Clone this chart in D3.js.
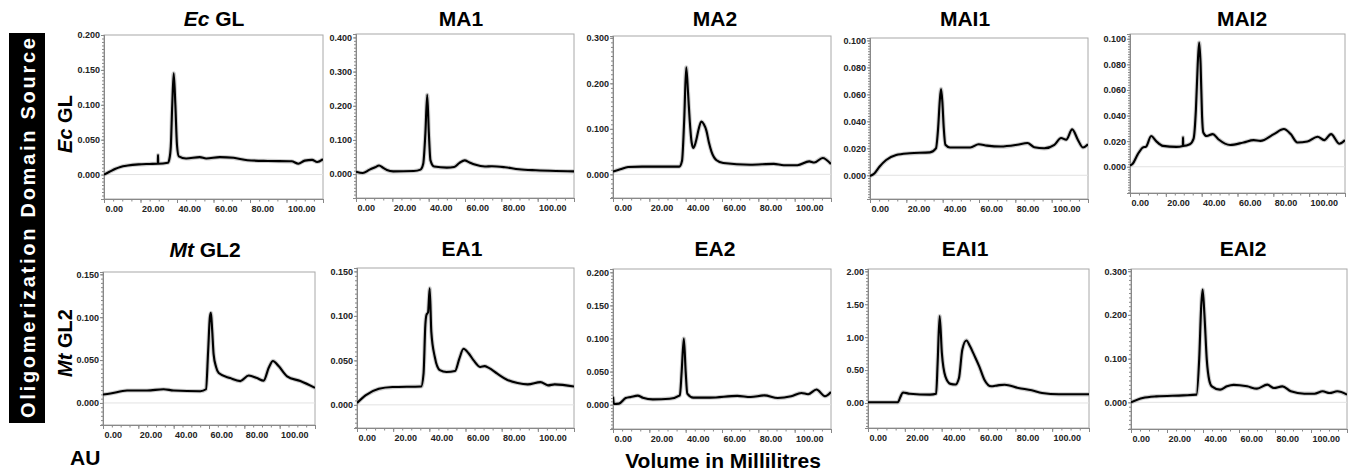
<!DOCTYPE html>
<html>
<head>
<meta charset="utf-8">
<script src="https://cdn.jsdelivr.net/npm/d3@7"></script>
<style>
  body { margin: 0; background: #fff; }
  svg { display: block; font-family: "Liberation Sans", Arial, sans-serif; }
</style>
</head>
<body>
<div id="chart"></div>
<script>
const W = 1355, H = 475

// titles (italic part + plain part), row by row
const titleItalic = ["Ec", "", "", "", "", "Mt", "", "", "", ""]
const titlePlain = [" GL", "MA1", "MA2", "MAI1", "MAI2", " GL2", "EA1", "EA2", "EAI1", "EAI2"]

// absorbance traces [volume mL, AU]
const ecGL = [[0,0.000],[3,0.004],[6,0.008],[9,0.011],[13,0.013],[19,0.0146],[25,0.0152],[29.5,0.0156],[29.6,0.028],[29.7,0.0156],[35,0.017],[35.8,0.022],[36.6,0.04],[37.4,0.1],[38.2,0.145],[39.1,0.1],[40,0.042],[41,0.026],[45,0.023],[52.5,0.025],[56,0.023],[63.5,0.025],[71,0.024],[78.6,0.0205],[89.8,0.0195],[102.8,0.019],[106.5,0.0156],[110,0.02],[114,0.021],[116.8,0.018],[120,0.022]]
const ma1 = [[0,0.007],[3.7,0.003],[7.5,0.013],[10.5,0.02],[12.7,0.025],[15,0.018],[17,0.012],[20.5,0.008],[31.8,0.009],[35.5,0.013],[37,0.03],[38.2,0.12],[39.2,0.232],[40.1,0.12],[41,0.04],[43,0.022],[50,0.019],[54,0.021],[57,0.033],[59.8,0.04],[62.5,0.034],[65.4,0.028],[71,0.022],[74.8,0.023],[82,0.02],[89.7,0.014],[99,0.011],[110,0.009],[120,0.008]]
const ma2 = [[0,0.006],[4,0.011],[8.3,0.016],[16,0.017],[36.5,0.017],[38,0.03],[39.2,0.12],[40.3,0.235],[41.3,0.18],[42.2,0.12],[43.3,0.07],[44.3,0.058],[45.8,0.075],[47.2,0.1],[48.6,0.116],[50,0.11],[51.4,0.096],[52.8,0.07],[54.2,0.05],[57,0.031],[60.7,0.025],[75.5,0.021],[88.5,0.023],[94,0.02],[101.5,0.02],[108,0.0285],[110.8,0.026],[115.4,0.036],[120,0.0225]]
const mai1 = [[0,-0.0005],[2.4,0.0013],[5.2,0.0063],[8.9,0.0113],[14.4,0.015],[21.9,0.0163],[33,0.017],[36.3,0.02],[37.5,0.035],[38.4,0.055],[39.1,0.064],[39.8,0.055],[40.6,0.035],[41.5,0.0226],[44,0.0206],[55.2,0.0206],[59.8,0.023],[64.4,0.022],[71.9,0.0213],[81.1,0.0226],[86.7,0.0239],[90.4,0.0208],[95.9,0.02],[101.5,0.0226],[105.2,0.0276],[108,0.0264],[111.3,0.034],[114.4,0.0264],[117.2,0.0206],[120,0.023]]
const mai2 = [[0,0.001],[1.5,0.0024],[4.3,0.0097],[7.1,0.015],[9,0.0158],[11.8,0.024],[14.6,0.02],[18.4,0.0163],[25.9,0.0155],[29.5,0.0162],[29.6,0.023],[29.7,0.0163],[33.4,0.0176],[35.5,0.022],[36.8,0.045],[37.8,0.08],[38.6,0.097],[39.4,0.08],[40.2,0.04],[40.9,0.0268],[42.8,0.024],[46.2,0.0255],[49.3,0.0215],[55.9,0.017],[63.4,0.019],[69,0.0208],[72.8,0.0202],[80.3,0.0255],[85.9,0.0295],[89.7,0.0255],[93.4,0.019],[99,0.0197],[104.7,0.0234],[108.4,0.0208],[112.2,0.0255],[116.9,0.018],[120,0.0208]]
const mtGL2 = [[0,0.0098],[4.2,0.011],[13.6,0.0145],[24.9,0.0145],[34.3,0.016],[40,0.0145],[55.1,0.0137],[58.3,0.016],[59.5,0.06],[60.5,0.1],[61.1,0.105],[61.8,0.085],[62.6,0.057],[64,0.042],[65.5,0.035],[72,0.029],[77.7,0.0255],[82.5,0.032],[87.2,0.029],[90.9,0.026],[93.8,0.041],[96.2,0.049],[99.4,0.043],[104.2,0.031],[111.7,0.0255],[120,0.0176]]
const ea1 = [[0,0.002],[4.7,0.0106],[12.1,0.018],[19.6,0.02],[35.5,0.0207],[36.8,0.035],[37.8,0.09],[38.4,0.101],[39.3,0.104],[40.2,0.131],[41.1,0.082],[43,0.054],[45.8,0.039],[49.5,0.037],[54.2,0.038],[56.6,0.052],[58.9,0.063],[61.7,0.058],[64.5,0.05],[68.2,0.0426],[70.5,0.0435],[72.9,0.0415],[77.6,0.035],[83.2,0.028],[88.8,0.0245],[94.4,0.023],[101.5,0.0256],[105.6,0.0219],[109.3,0.023],[120,0.0207]]
const ea2 = [[0,0.012],[0.5,0.001],[3.3,0.0015],[7,0.010],[9.8,0.0116],[13.6,0.0137],[16.4,0.0106],[21.9,0.008],[31.2,0.009],[36.8,0.014],[37.8,0.05],[39,0.1],[40,0.05],[40.9,0.0167],[44.2,0.0106],[53.5,0.0106],[68.4,0.0132],[75.8,0.0116],[83.3,0.014],[90.7,0.010],[98.1,0.0127],[103.7,0.0177],[107.4,0.0157],[112,0.0228],[116.7,0.0127],[120,0.0192]]
const eai1 = [[0,0.01],[16.2,0.01],[17.7,0.1],[19,0.16],[22.7,0.14],[33.7,0.127],[37,0.14],[37.8,0.6],[38.9,1.32],[40.1,0.76],[42,0.405],[44.8,0.29],[47.5,0.28],[49.4,0.38],[51.2,0.81],[53.4,0.95],[55.4,0.86],[57.6,0.73],[60.4,0.556],[63.2,0.354],[66.9,0.253],[70.5,0.268],[74.2,0.278],[81.6,0.228],[88.9,0.192],[94.5,0.152],[103.7,0.132],[120,0.132]]
const eai2 = [[0,0.0],[6.5,0.0099],[14,0.0137],[29,0.016],[36.4,0.0176],[37.9,0.1],[39,0.22],[39.8,0.258],[40.8,0.2],[42.1,0.0977],[43.5,0.05],[44.9,0.0366],[49.5,0.029],[53.3,0.0366],[57,0.04],[64.5,0.0366],[70,0.0313],[75.7,0.0404],[79.4,0.0328],[84.1,0.0366],[88.8,0.0252],[96.3,0.0198],[101.9,0.0198],[106.5,0.0252],[110.3,0.0214],[114.6,0.0252],[120,0.0176]]

// y ranges and tick steps per panel
const yMin = [-0.035, -0.07, -0.052, -0.0176, -0.0205, -0.0257, -0.026, -0.0368, -0.38, -0.061]
const yMax = [0.2, 0.41, 0.304, 0.1018, 0.1037, 0.1527, 0.1538, 0.205, 2.035, 0.305]
const yStep = [0.05, 0.1, 0.1, 0.02, 0.02, 0.05, 0.05, 0.05, 0.5, 0.1]
const yFmt = [".3f", ".3f", ".3f", ".3f", ".3f", ".3f", ".3f", ".3f", ".2f", ".3f"]
const xTicks = [0, 20, 40, 60, 80, 100]

const traces = [ecGL, ma1, ma2, mai1, mai2, mtGL2, ea1, ea2, eai1, eai2]

// layout: plot boxes per panel
const boxLeft = [104, 356, 613, 870, 1130, 103, 357, 613, 868, 1131]
const boxWidth = [219, 218, 218, 218, 215, 212, 217, 218, 221, 216]
const boxTop = [35, 34, 36, 38, 34, 272, 268, 269, 269, 269]
const boxBottom = [199, 198, 198, 199, 193, 425, 428, 429, 428, 429]
const titleX = [214, 461, 715, 965, 1242, 205, 462, 715, 965, 1243]
const titleY = [26, 26, 26, 26, 26, 257, 256, 256, 256, 256]

const svg = d3.select("#chart").append("svg")
    .attr("width", W)
    .attr("height", H)

// side band
svg.append("rect")
    .attr("x", 9).attr("y", 33)
    .attr("width", 36).attr("height", 390)
    .attr("fill", "#000")
svg.append("text")
    .attr("transform", "translate(35,228) rotate(-90)")
    .attr("text-anchor", "middle")
    .attr("fill", "#fff")
    .attr("font-size", 20)
    .attr("font-weight", "bold")
    .attr("textLength", 380)
    .attr("lengthAdjust", "spacing")
    .text("Oligomerization Domain Source")

// row labels
const rowItalic = ["Ec", "Mt"], rowPlain = [" GL", " GL2"]
const rowY = [124, 343]
rowY.forEach((yy, r) => {
    const t = svg.append("text")
        .attr("transform", `translate(72,${yy}) rotate(-90)`)
        .attr("text-anchor", "middle")
        .attr("font-size", 20)
        .attr("font-weight", "bold")
    t.append("tspan").attr("font-style", "italic").text(rowItalic[r])
    t.append("tspan").text(rowPlain[r])
})

svg.append("text")
    .attr("x", 70).attr("y", 465)
    .attr("font-size", 21).attr("font-weight", "bold")
    .text("AU")
svg.append("text")
    .attr("x", 723).attr("y", 468)
    .attr("text-anchor", "middle")
    .attr("font-size", 21).attr("font-weight", "bold")
    .text("Volume in Millilitres")

traces.forEach((data, i) => {
    const x0 = boxLeft[i], w = boxWidth[i], y0 = boxTop[i], y1 = boxBottom[i]

    const x = d3.scaleLinear().domain([0, 120]).range([x0, x0 + w])
    const y = d3.scaleLinear().domain([yMin[i], yMax[i]]).range([y1, y0])

    const g = svg.append("g")

    // title
    const t = g.append("text")
        .attr("x", titleX[i]).attr("y", titleY[i])
        .attr("text-anchor", "middle")
        .attr("font-size", 21).attr("font-weight", "bold")
    if (titleItalic[i]) t.append("tspan").attr("font-style", "italic").text(titleItalic[i])
    t.append("tspan").text(titlePlain[i])

    // frame
    g.append("rect")
        .attr("x", x0).attr("y", y0)
        .attr("width", w).attr("height", y1 - y0)
        .attr("fill", "#fff")
        .attr("stroke", "#a8a8a8").attr("stroke-width", 1)

    // zero line
    g.append("line")
        .attr("x1", x0).attr("x2", x0 + w)
        .attr("y1", y(0)).attr("y2", y(0))
        .attr("stroke", "#e2e2e2").attr("stroke-width", 1)

    // x axis, minor then major
    g.append("g").attr("transform", `translate(0,${y1})`)
        .call(d3.axisBottom(x).tickValues(d3.range(0, 121, 5)).tickSize(2.5).tickFormat(""))
    const xAxis = g.append("g").attr("transform", `translate(0,${y1})`)
        .call(d3.axisBottom(x).tickValues(xTicks).tickSize(4).tickFormat(d3.format(".2f")))
    xAxis.selectAll("text")
        .attr("text-anchor", "start")
        .attr("dx", "0.1em")
        .attr("y", 7)
        .attr("font-size", 9).attr("font-weight", "bold").attr("fill", "#222")

    // y axis
    const yt = d3.range(0, yMax[i] + 1e-9, yStep[i])
    const ym = d3.range(Math.ceil(yMin[i] / (yStep[i] / 10)) * yStep[i] / 10, yMax[i], yStep[i] / 10)
    g.append("g").attr("transform", `translate(${x0},0)`)
        .call(d3.axisLeft(y).tickValues(ym).tickSize(2).tickFormat(""))
    const yAxis = g.append("g").attr("transform", `translate(${x0},0)`)
        .call(d3.axisLeft(y).tickValues(yt).tickSize(3).tickFormat(d3.format(yFmt[i])))
    yAxis.selectAll("text")
        .attr("x", -4)
        .attr("font-size", 9).attr("font-weight", "bold").attr("fill", "#222")

    g.selectAll(".domain").attr("stroke", "#888")
    g.selectAll(".tick line").attr("stroke", "#888")

    // trace
    const line = d3.line()
        .x(d => x(d[0]))
        .y(d => y(d[1]))
        .curve(d3.curveMonotoneX)

    const clipId = "clip" + i
    g.append("clipPath").attr("id", clipId)
        .append("rect")
        .attr("x", x0).attr("y", y0 - 1)
        .attr("width", w).attr("height", y1 - y0 + 1)

    g.append("path")
        .datum(data)
        .attr("clip-path", `url(#${clipId})`)
        .attr("d", line)
        .attr("fill", "none")
        .attr("stroke", "#999")
        .attr("stroke-opacity", 0.5)
        .attr("stroke-width", 4.2)
        .attr("stroke-linejoin", "round")
    g.append("path")
        .datum(data)
        .attr("clip-path", `url(#${clipId})`)
        .attr("d", line)
        .attr("fill", "none")
        .attr("stroke", "#000")
        .attr("stroke-width", 2.1)
        .attr("stroke-linejoin", "round")
})
</script>
</body>
</html>
